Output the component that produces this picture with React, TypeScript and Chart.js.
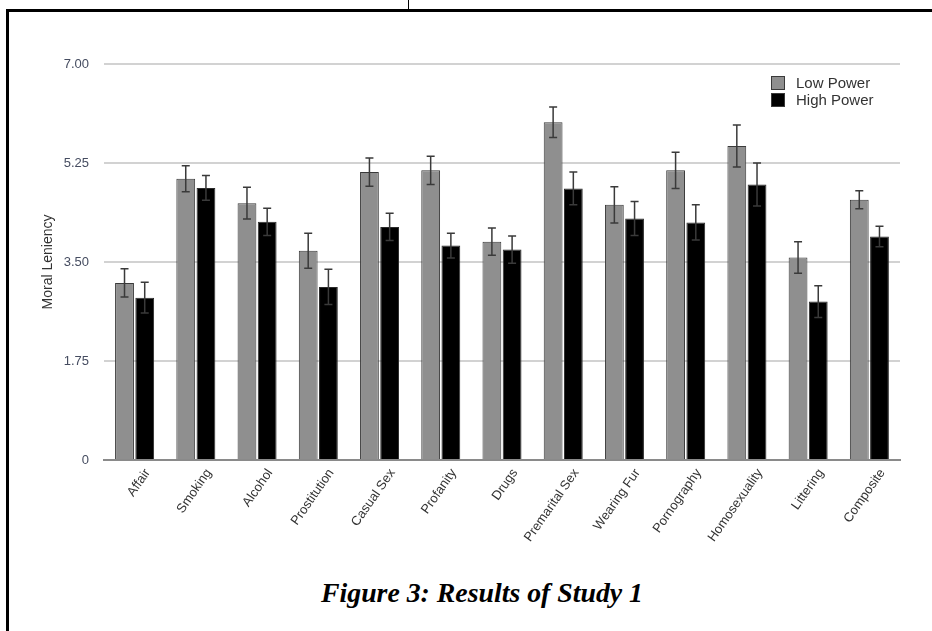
import React, { useEffect, useRef } from "react";
import { Chart, registerables } from "chart.js";

Chart.register(...registerables);

const categories = [
  "Affair", "Smoking", "Alcohol", "Prostitution", "Casual Sex", "Profanity", "Drugs",
  "Premarital Sex", "Wearing Fur", "Pornography", "Homosexuality", "Littering", "Composite",
];
const lowPower = [3.13, 4.97, 4.54, 3.70, 5.09, 5.12, 3.86, 5.97, 4.51, 5.12, 5.55, 3.58, 4.60];
const highPower = [2.87, 4.81, 4.21, 3.06, 4.12, 3.79, 3.72, 4.80, 4.27, 4.20, 4.87, 2.80, 3.95];
const lowErr = [0.25, 0.23, 0.28, 0.31, 0.25, 0.25, 0.24, 0.27, 0.32, 0.32, 0.37, 0.28, 0.16];
const highErr = [0.27, 0.22, 0.24, 0.31, 0.24, 0.22, 0.24, 0.29, 0.30, 0.31, 0.38, 0.28, 0.18];
const yTickLabels = ["0", "1.75", "3.50", "5.25", "7.00"];
const seriesNames = ["Low Power", "High Power"];
const yTitle = "Moral Leniency";
const caption = "Figure 3: Results of Study 1";

const FONT = "'Liberation Sans', Arial, Helvetica, sans-serif";

const errorBarPlugin = {
  id: "errorBars",
  afterDatasetsDraw(chart: any) {
    const { ctx } = chart;
    const yScale = chart.scales.y;
    const errs = [lowErr, highErr];
    chart.data.datasets.forEach((ds: any, di: number) => {
      const meta = chart.getDatasetMeta(di);
      meta.data.forEach((el: any, i: number) => {
        const v = ds.data[i];
        const e = errs[di][i];
        const yTop = yScale.getPixelForValue(v + e);
        const yBot = yScale.getPixelForValue(v - e);
        const x = el.x;
        ctx.save();
        ctx.strokeStyle = "#3a3a3a";
        ctx.lineWidth = 1.5;
        ctx.beginPath();
        ctx.moveTo(x, yTop);
        ctx.lineTo(x, yBot);
        ctx.moveTo(x - 4, yTop);
        ctx.lineTo(x + 4, yTop);
        ctx.moveTo(x - 4, yBot);
        ctx.lineTo(x + 4, yBot);
        ctx.stroke();
        ctx.restore();
      });
    });
  },
};

const legendPlugin = {
  id: "customLegend",
  afterDraw(chart: any) {
    const { ctx, chartArea } = chart;
    const fills = ["#8f8f8f", "#000000"];
    const x0 = chartArea.right - 129;
    seriesNames.forEach((name, i) => {
      const y0 = chartArea.top + 12 + i * 17;
      ctx.save();
      ctx.fillStyle = "#3a3a3a";
      ctx.fillRect(x0, y0, 14, 14);
      ctx.fillStyle = fills[i];
      ctx.fillRect(x0 + 1, y0 + 1, 12, 12);
      ctx.fillStyle = "#333333";
      ctx.font = `15px ${FONT}`;
      ctx.textBaseline = "middle";
      ctx.textAlign = "left";
      ctx.fillText(name, x0 + 25, y0 + 7.5);
      ctx.restore();
    });
  },
};

export default function App() {
  const canvasRef = useRef<HTMLCanvasElement | null>(null);

  useEffect(() => {
    if (!canvasRef.current) return;
    const chart = new Chart(canvasRef.current, {
      type: "bar",
      data: {
        labels: categories,
        datasets: [
          {
            label: seriesNames[0],
            data: lowPower,
            backgroundColor: "#8f8f8f",
            borderColor: "#3a3a3a",
            borderWidth: 1,
            categoryPercentage: 0.66,
            barPercentage: 0.93,
          },
          {
            label: seriesNames[1],
            data: highPower,
            backgroundColor: "#000000",
            borderColor: "#2a2a2a",
            borderWidth: 1,
            categoryPercentage: 0.66,
            barPercentage: 0.93,
          },
        ],
      },
      options: {
        responsive: false,
        animation: false,
        layout: { padding: { left: 0, right: 32, top: 64, bottom: 0 } },
        plugins: {
          legend: { display: false },
          tooltip: { enabled: false },
        },
        scales: {
          x: {
            grid: { display: false, drawTicks: false },
            border: { display: true, color: "#8a8a8a", width: 2 },
            ticks: {
              color: "#333333",
              font: { family: FONT, size: 13 },
              minRotation: 55,
              maxRotation: 55,
              labelOffset: 13,
              padding: 6,
              autoSkip: false,
            },
            afterFit(scale: any) {
              scale.height = 100;
            },
          },
          y: {
            min: 0,
            max: 7,
            border: { display: false },
            grid: {
              drawTicks: false,
              lineWidth: 2,
              color: (c: any) => (c.index === 0 ? "#8a8a8a" : "#d2d2d2"),
            },
            ticks: {
              stepSize: 1.75,
              color: "#454c60",
              font: { family: FONT, size: 13 },
              padding: 15,
              callback: (_v: any, i: number) => yTickLabels[i],
            },
            title: {
              display: true,
              text: yTitle,
              color: "#333333",
              font: { family: FONT, size: 14 },
              padding: { top: 40, bottom: 0 },
            },
            afterFit(scale: any) {
              scale.width = 104;
            },
          },
        },
      },
      plugins: [errorBarPlugin, legendPlugin],
    });
    return () => chart.destroy();
  }, []);

  return (
    <div
      style={{
        position: "fixed",
        left: 0,
        top: 0,
        width: 932,
        height: 631,
        background: "#ffffff",
        overflow: "hidden",
      }}
    >
      <div style={{ position: "absolute", left: 6, top: 9, width: 930, height: 3, background: "#000" }} />
      <div style={{ position: "absolute", left: 6, top: 9, width: 3, height: 630, background: "#000" }} />
      <div style={{ position: "absolute", left: 408, top: 0, width: 1, height: 10, background: "#000" }} />
      <canvas
        ref={canvasRef}
        width={932}
        height={560}
        style={{ position: "absolute", left: 0, top: 0, width: 932, height: 560 }}
      />
      <div
        style={{
          position: "absolute",
          left: 0,
          top: 579,
          width: 964,
          textAlign: "center",
          fontFamily: "'Liberation Serif', 'Times New Roman', serif",
          fontWeight: "bold",
          fontStyle: "italic",
          fontSize: 27.8,
          lineHeight: "27px",
          color: "#000",
          whiteSpace: "nowrap",
        }}
      >
        {caption}
      </div>
    </div>
  );
}
